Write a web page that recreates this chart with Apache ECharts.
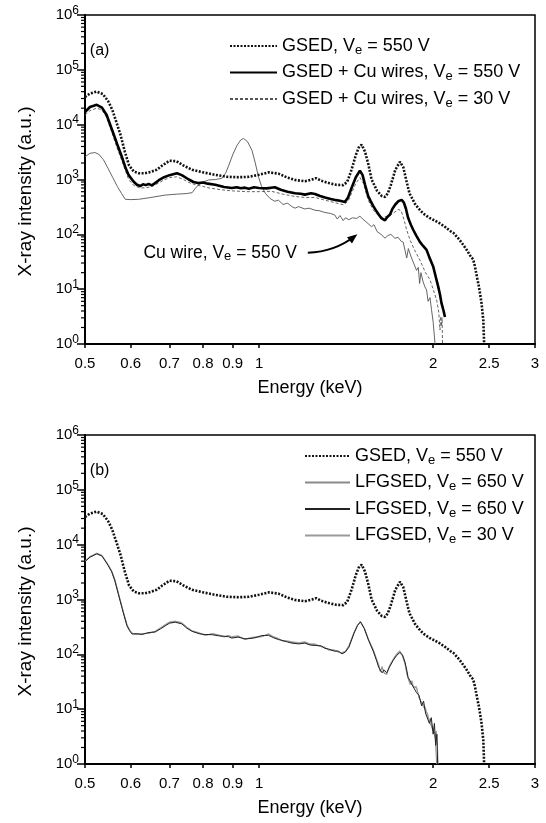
<!DOCTYPE html>
<html lang="en">
<head>
    <meta charset="UTF-8">
    <title>X-ray intensity vs energy</title>
    <script src="https://cdn.jsdelivr.net/npm/echarts@6/dist/echarts.min.js"></script>
    <style>
        html, body { margin: 0; padding: 0; background: #fff; }
        #main { width: 546px; height: 823px; }
    </style>
</head>
<body>
<div id="main"></div>
<script>
    // tick values on the energy axis
    var xTicks = [0.5, 0.6, 0.7, 0.8, 0.9, 1, 2, 2.5, 3];

    // [energy keV, intensity a.u.]  GSED, Ve = 550 V (same curve in both panels)
    var gsed = [[0.5,3.2e4],[0.51,3.7e4],[0.524,4.0e4],[0.537,3.6e4],[0.548,2.7e4],[0.557,1.9e4],[0.566,1.15e4],[0.576,6.5e3],[0.586,3.2e3],[0.596,1.8e3],[0.607,1.4e3],[0.62,1.3e3],[0.635,1.3e3],[0.65,1.38e3],[0.665,1.5e3],[0.68,1.8e3],[0.70,2.2e3],[0.72,2.15e3],[0.74,1.8e3],[0.766,1.5e3],[0.8,1.35e3],[0.839,1.22e3],[0.88,1.12e3],[0.922,1.1e3],[0.96,1.12e3],[1.0,1.22e3],[1.04,1.35e3],[1.08,1.28e3],[1.12,1.08e3],[1.154,980],[1.2,930],[1.235,1.0e3],[1.255,1.06e3],[1.28,950],[1.32,860],[1.36,800],[1.398,790],[1.42,900],[1.445,1.5e3],[1.47,2.8e3],[1.49,4.0e3],[1.505,4.3e3],[1.525,3.2e3],[1.545,1.9e3],[1.565,1.0e3],[1.6,620],[1.63,500],[1.651,480],[1.67,560],[1.69,800],[1.72,1.5e3],[1.752,2.1e3],[1.775,1.7e3],[1.80,900],[1.82,560],[1.84,450],[1.86,360],[1.89,290],[1.922,240],[1.97,200],[2.01,180],[2.054,158],[2.1,135],[2.14,115],[2.17,105],[2.22,80],[2.26,62],[2.286,52],[2.324,39],[2.345,35],[2.362,26],[2.38,17],[2.40,11],[2.41,8.4],[2.425,5.5],[2.442,2.7],[2.45,1.0]];

    // GSED + Cu wires, Ve = 550 V
    var cuWires550 = [[0.5,1.7e4],[0.51,2.1e4],[0.524,2.3e4],[0.535,2.05e4],[0.545,1.5e4],[0.557,8.0e3],[0.568,4.5e3],[0.579,2.6e3],[0.588,1.6e3],[0.595,1.2e3],[0.607,910],[0.615,800],[0.623,760],[0.63,820],[0.637,790],[0.644,830],[0.652,780],[0.66,850],[0.67,960],[0.685,1.1e3],[0.70,1.2e3],[0.721,1.3e3],[0.735,1.2e3],[0.756,1.0e3],[0.77,900],[0.784,860],[0.80,880],[0.815,840],[0.84,800],[0.87,730],[0.897,700],[0.915,720],[0.93,690],[0.945,710],[0.96,680],[0.98,720],[1.0,700],[1.03,690],[1.065,720],[1.09,650],[1.12,600],[1.154,560],[1.18,550],[1.2,530],[1.23,560],[1.249,545],[1.275,500],[1.3,470],[1.33,440],[1.36,420],[1.38,410],[1.407,390],[1.425,470],[1.445,700],[1.47,1.1e3],[1.494,1.45e3],[1.51,1.2e3],[1.525,800],[1.544,500],[1.56,400],[1.575,330],[1.597,260],[1.625,200],[1.651,180],[1.665,205],[1.684,230],[1.70,290],[1.72,350],[1.74,400],[1.764,425],[1.78,380],[1.795,290],[1.81,200],[1.83,150],[1.848,120],[1.87,95],[1.897,73],[1.92,62],[1.948,52],[1.97,38],[2.0,26],[2.02,17],[2.041,11],[2.055,8],[2.068,5.5],[2.085,4],[2.096,3.1]];

    // GSED + Cu wires, Ve = 30 V
    var cuWires30 = [[0.5,1.5e4],[0.51,1.8e4],[0.524,2.0e4],[0.535,1.85e4],[0.545,1.35e4],[0.557,7.0e3],[0.568,3.8e3],[0.579,2.2e3],[0.588,1.4e3],[0.595,1.0e3],[0.607,780],[0.623,700],[0.64,710],[0.655,760],[0.67,860],[0.685,980],[0.70,1.08e3],[0.72,1.12e3],[0.74,1.0e3],[0.76,860],[0.784,780],[0.80,750],[0.82,700],[0.86,650],[0.9,620],[0.95,600],[1.0,600],[1.05,610],[1.1,540],[1.154,490],[1.2,470],[1.249,470],[1.3,420],[1.35,380],[1.4,345],[1.425,400],[1.445,560],[1.47,850],[1.494,1.08e3],[1.515,850],[1.544,420],[1.575,280],[1.6,230],[1.63,205],[1.66,210],[1.7,235],[1.74,285],[1.76,270],[1.78,190],[1.80,120],[1.824,79],[1.86,50],[1.897,34],[1.94,20],[1.974,15],[2.0,10],[2.028,6.3],[2.045,3.8],[2.055,1.8],[2.062,3.2],[2.068,2.1],[2.072,3.0],[2.076,1.0]];

    // Cu wire, Ve = 550 V
    var cuWire = [[0.5,2.6e3],[0.51,3.0e3],[0.52,3.1e3],[0.528,2.9e3],[0.538,2.3e3],[0.548,1.6e3],[0.558,1.1e3],[0.569,740],[0.578,560],[0.587,435],[0.6,430],[0.619,435],[0.65,470],[0.688,520],[0.72,540],[0.75,555],[0.766,575],[0.775,680],[0.784,780],[0.8,900],[0.818,980],[0.84,1.0e3],[0.862,1.05e3],[0.875,1.3e3],[0.888,1.9e3],[0.9,2.8e3],[0.916,4.2e3],[0.93,5.3e3],[0.94,5.6e3],[0.955,4.9e3],[0.972,3.4e3],[0.985,2.0e3],[0.998,1.1e3],[1.01,750],[1.025,560],[1.045,450],[1.065,400],[1.08,420],[1.1,350],[1.12,370],[1.14,320],[1.154,300],[1.17,320],[1.2,290],[1.22,300],[1.249,275],[1.27,270],[1.3,250],[1.33,240],[1.352,225],[1.365,190],[1.38,220],[1.398,178],[1.41,200],[1.43,185],[1.45,200],[1.475,195],[1.494,215],[1.51,190],[1.53,170],[1.565,138],[1.58,150],[1.6,112],[1.625,100],[1.651,85],[1.67,95],[1.69,100],[1.717,85],[1.74,88],[1.76,75],[1.775,72],[1.788,69],[1.80,37],[1.812,55],[1.83,40],[1.85,30],[1.872,22],[1.885,25],[1.895,12.7],[1.905,20],[1.92,14],[1.935,11],[1.948,9.7],[1.96,6],[1.975,7],[1.987,4.2],[2.0,2.5],[2.015,1.0]];

    // LFGSED, Ve = 650 V (first run, grey)
    var lf650a = [[0.5,5.0e3],[0.51,6.0e3],[0.524,6.9e3],[0.535,6.3e3],[0.548,4.3e3],[0.556,3.3e3],[0.563,2.3e3],[0.571,1.3e3],[0.579,740],[0.585,500],[0.591,343],[0.597,280],[0.603,240],[0.615,232],[0.627,235],[0.645,245],[0.661,260],[0.675,300],[0.688,343],[0.70,380],[0.716,395],[0.735,370],[0.75,310],[0.766,266],[0.79,240],[0.807,225],[0.83,235],[0.85,222],[0.87,210],[0.885,218],[0.897,204],[0.92,212],[0.945,188],[0.965,198],[0.984,204],[1.01,212],[1.038,230],[1.06,205],[1.08,192],[1.096,178],[1.12,172],[1.14,165],[1.171,160],[1.2,165],[1.225,152],[1.25,150],[1.28,140],[1.3,132],[1.319,122],[1.35,118],[1.37,112],[1.391,105],[1.41,112],[1.43,140],[1.46,250],[1.48,340],[1.497,395],[1.52,300],[1.547,182],[1.575,120],[1.597,79],[1.61,62],[1.62,50],[1.632,58],[1.645,45],[1.662,44],[1.68,60],[1.706,80],[1.73,100],[1.752,112],[1.77,95],[1.788,69],[1.8,48],[1.805,40],[1.824,30],[1.838,31],[1.85,26],[1.872,24],[1.89,17],[1.91,12.7],[1.925,13],[1.94,9.5],[1.955,8.4],[1.97,6],[1.985,6.5],[2.0,4],[2.015,3.6],[2.022,1.8],[2.028,1.0]];

    // LFGSED, Ve = 650 V (second run, black)
    var lf650b = [[0.5,4.9e3],[0.51,5.9e3],[0.524,6.8e3],[0.535,6.2e3],[0.548,4.2e3],[0.556,3.2e3],[0.563,2.2e3],[0.571,1.25e3],[0.579,720],[0.585,480],[0.591,330],[0.597,270],[0.603,235],[0.615,238],[0.627,230],[0.645,250],[0.661,255],[0.675,290],[0.688,330],[0.70,370],[0.716,385],[0.735,360],[0.75,300],[0.766,262],[0.79,236],[0.807,230],[0.83,228],[0.85,218],[0.87,214],[0.885,210],[0.897,198],[0.92,206],[0.945,192],[0.965,194],[0.984,200],[1.01,220],[1.038,222],[1.06,200],[1.08,186],[1.096,180],[1.12,168],[1.14,160],[1.171,155],[1.2,160],[1.225,148],[1.25,145],[1.28,143],[1.3,128],[1.319,125],[1.35,114],[1.37,115],[1.391,102],[1.41,110],[1.43,135],[1.46,245],[1.48,335],[1.497,390],[1.52,295],[1.547,178],[1.575,115],[1.597,76],[1.61,58],[1.62,55],[1.632,46],[1.645,52],[1.662,46],[1.68,58],[1.706,78],[1.73,96],[1.752,108],[1.77,98],[1.788,72],[1.8,52],[1.81,38],[1.824,33],[1.838,28],[1.85,27],[1.872,20],[1.89,18],[1.91,11.5],[1.925,14],[1.94,8.5],[1.955,9],[1.97,5.5],[1.985,7],[2.0,3.5],[2.01,5.5],[2.02,2.2],[2.03,3.5],[2.036,1.0]];

    // LFGSED, Ve = 30 V
    var lf30 = [[0.5,5.1e3],[0.51,6.1e3],[0.524,7.0e3],[0.535,6.4e3],[0.548,4.4e3],[0.556,3.35e3],[0.563,2.35e3],[0.571,1.32e3],[0.579,760],[0.585,510],[0.591,350],[0.597,285],[0.603,245],[0.615,228],[0.627,240],[0.645,242],[0.661,265],[0.675,305],[0.688,350],[0.70,390],[0.716,405],[0.735,380],[0.75,315],[0.766,270],[0.79,245],[0.807,220],[0.83,240],[0.85,228],[0.87,206],[0.885,222],[0.897,210],[0.92,218],[0.945,185],[0.965,202],[0.984,208],[1.01,208],[1.038,238],[1.06,210],[1.08,196],[1.096,175],[1.12,176],[1.14,170],[1.171,163],[1.2,170],[1.225,155],[1.25,155],[1.28,137],[1.3,136],[1.319,119],[1.35,121],[1.37,109],[1.391,108],[1.41,115],[1.43,145],[1.46,255],[1.48,345],[1.497,400],[1.52,305],[1.547,186],[1.575,124],[1.597,82],[1.61,65],[1.62,48],[1.632,60],[1.645,47],[1.662,42],[1.68,62],[1.706,82],[1.73,104],[1.752,116],[1.77,92],[1.788,66],[1.8,45],[1.808,42],[1.824,28],[1.838,33],[1.85,25],[1.872,26],[1.89,16],[1.91,13.5],[1.925,12],[1.94,10.5],[1.955,7.5],[1.97,6.5],[1.985,5.5],[2.0,4.5],[2.015,3],[2.025,4],[2.035,2],[2.04,1.0]];

    // legend text, split around the subscript "e"
    var legendText = {
        'GSED (a)': ['GSED, V', ' = 550 V'],
        'Cu wires 550': ['GSED + Cu wires, V', ' = 550 V'],
        'Cu wires 30': ['GSED + Cu wires, V', ' = 30 V'],
        'GSED (b)': ['GSED, V', ' = 550 V'],
        'LFGSED 650 a': ['LFGSED, V', ' = 650 V'],
        'LFGSED 650 b': ['LFGSED, V', ' = 650 V'],
        'LFGSED 30': ['LFGSED, V', ' = 30 V']
    };

    var FONT = '"Liberation Sans", Arial, Helvetica, sans-serif';

    var myChart = echarts.init(document.getElementById('main'), null, {renderer: 'canvas'});

    function makeX(idx) {
        return {
            type: 'log', gridIndex: idx, logBase: 10, min: 0.5, max: 3,
            axisLine: {show: true, onZero: false, lineStyle: {color: '#000', width: 2}},
            axisTick: {show: true, length: 4, customValues: xTicks, lineStyle: {color: '#000', width: 1.5}},
            axisLabel: {
                customValues: xTicks, color: '#000', fontSize: 15, fontFamily: FONT, margin: 12,
                formatter: function (v) { return String(v); }
            },
            splitLine: {show: false},
            name: 'Energy (keV)', nameLocation: 'middle', nameGap: 35,
            nameTextStyle: {color: '#000', fontSize: 18, fontFamily: FONT}
        };
    }

    function makeY(idx) {
        return {
            type: 'log', gridIndex: idx, logBase: 10, min: 1, max: 1e6, interval: 1,
            axisLine: {show: true, onZero: false, lineStyle: {color: '#000', width: 2}},
            axisTick: {show: true, length: 8, lineStyle: {color: '#000', width: 1.5}},
            axisLabel: {
                color: '#000', margin: 6,
                formatter: function (v) {
                    return '{b|10}{s|' + Math.round(Math.log10(v)) + '}';
                },
                rich: {
                    b: {fontSize: 15, fontFamily: FONT, color: '#000'},
                    s: {fontSize: 12, fontFamily: FONT, color: '#000', padding: [0, 0, 9, 0]}
                }
            },
            splitLine: {show: false},
            name: 'X-ray intensity (a.u.)', nameLocation: 'middle', nameGap: 50,
            nameTextStyle: {color: '#000', fontSize: 19, fontFamily: FONT, padding: [0, 24, 0, 0]}
        };
    }

    function line(name, idx, data, color, width, type) {
        return {
            name: name, type: 'line', xAxisIndex: idx, yAxisIndex: idx,
            data: data, symbol: 'none', showSymbol: false, clip: true,
            lineStyle: {color: color, width: width, type: type},
            itemStyle: {color: color},
            emphasis: {disabled: true}
        };
    }

    function legendFmt(name) {
        var t = legendText[name];
        return '{n|' + t[0] + '}{sub|e}{n|' + t[1] + '}';
    }

    var legendStyle = {
        color: '#000', fontSize: 18, fontFamily: FONT,
        rich: {
            n: {fontSize: 18, fontFamily: FONT, color: '#000'},
            sub: {fontSize: 13, fontFamily: FONT, color: '#000', padding: [8, 0, 0, 0]}
        }
    };

    myChart.setOption({
        animation: false,
        backgroundColor: '#fff',
        grid: [
            {left: 85, top: 15, width: 450, height: 329, show: true, borderColor: '#000', borderWidth: 1.5},
            {left: 85, top: 435, width: 450, height: 329, show: true, borderColor: '#000', borderWidth: 1.5}
        ],
        xAxis: [makeX(0), makeX(1)],
        yAxis: [makeY(0), makeY(1)],
        legend: [
            {
                data: ['GSED (a)', 'Cu wires 550', 'Cu wires 30'],
                orient: 'vertical', left: 224, top: 32, itemWidth: 47, itemHeight: 14, itemGap: 7,
                selectedMode: false, formatter: legendFmt, textStyle: legendStyle,
                itemStyle: {opacity: 0}
            },
            {
                data: ['GSED (b)', 'LFGSED 650 a', 'LFGSED 650 b', 'LFGSED 30'],
                orient: 'vertical', left: 299, top: 442, itemWidth: 45, itemHeight: 14, itemGap: 7,
                selectedMode: false, formatter: legendFmt, textStyle: legendStyle,
                itemStyle: {opacity: 0}
            }
        ],
        series: [
            line('Cu wire', 0, cuWire, '#555', 0.9, 'solid'),
            line('Cu wires 30', 0, cuWires30, '#555', 0.9, [3, 2]),
            line('Cu wires 550', 0, cuWires550, '#000', 2.6, 'solid'),
            line('GSED (a)', 0, gsed, '#111', 2.6, [2, 1.5]),
            line('GSED (b)', 1, gsed, '#111', 2.6, [2, 1.5]),
            line('LFGSED 650 a', 1, lf650a, '#8a8a8a', 1, 'solid'),
            line('LFGSED 30', 1, lf30, '#9a9a9a', 1, 'solid'),
            line('LFGSED 650 b', 1, lf650b, '#222', 1, 'solid')
        ]
    });

    // panel tags, minor log ticks and the Cu wire annotation
    function px(g, e, v) {
        return myChart.convertToPixel({gridIndex: g}, [e, v]);
    }

    var extras = [];
    [0, 1].forEach(function (g) {
        for (var k = 0; k < 6; k++) {
            for (var m = 2; m < 10; m++) {
                var p = px(g, 0.5, m * Math.pow(10, k));
                extras.push({
                    type: 'line', silent: true,
                    shape: {x1: p[0] - 4, y1: p[1], x2: p[0], y2: p[1]},
                    style: {stroke: '#000', lineWidth: 1.2}
                });
            }
        }
    });

    var tagA = px(0, 0.53, 2.2e5), tagB = px(1, 0.53, 2.2e5);
    extras.push({type: 'text', x: tagA[0], y: tagA[1], style: {text: '(a)', fill: '#000', font: '16px ' + FONT, align: 'center', verticalAlign: 'middle'}});
    extras.push({type: 'text', x: tagB[0], y: tagB[1], style: {text: '(b)', fill: '#000', font: '16px ' + FONT, align: 'center', verticalAlign: 'middle'}});

    var noteAt = px(0, 1.163, 46);
    extras.push({
        type: 'text', x: noteAt[0], y: noteAt[1],
        style: {
            text: '{n|Cu wire, V}{sub|e}{n| = 550 V}', align: 'right', verticalAlign: 'middle',
            rich: {
                n: {fontSize: 17.5, fontFamily: FONT, fill: '#000'},
                sub: {fontSize: 13, fontFamily: FONT, fill: '#000', padding: [8, 0, 0, 0]}
            }
        }
    });

    var s0 = px(0, 1.214, 46), c0 = px(0, 1.352, 48), e0 = px(0, 1.465, 93);
    extras.push({
        type: 'bezierCurve', silent: true,
        shape: {x1: s0[0], y1: s0[1], cpx1: c0[0], cpy1: c0[1], x2: e0[0], y2: e0[1]},
        style: {stroke: '#000', lineWidth: 2, fill: null}
    });
    var dx = e0[0] - c0[0], dy = e0[1] - c0[1], len = Math.sqrt(dx * dx + dy * dy);
    var ux = dx / len, uy = dy / len;
    extras.push({
        type: 'polygon', silent: true,
        shape: {points: [
            [e0[0] + ux * 3, e0[1] + uy * 3],
            [e0[0] - ux * 7 - uy * 4, e0[1] - uy * 7 + ux * 4],
            [e0[0] - ux * 7 + uy * 4, e0[1] - uy * 7 - ux * 4]
        ]},
        style: {fill: '#000'}
    });

    myChart.setOption({graphic: extras});
</script>
</body>
</html>
